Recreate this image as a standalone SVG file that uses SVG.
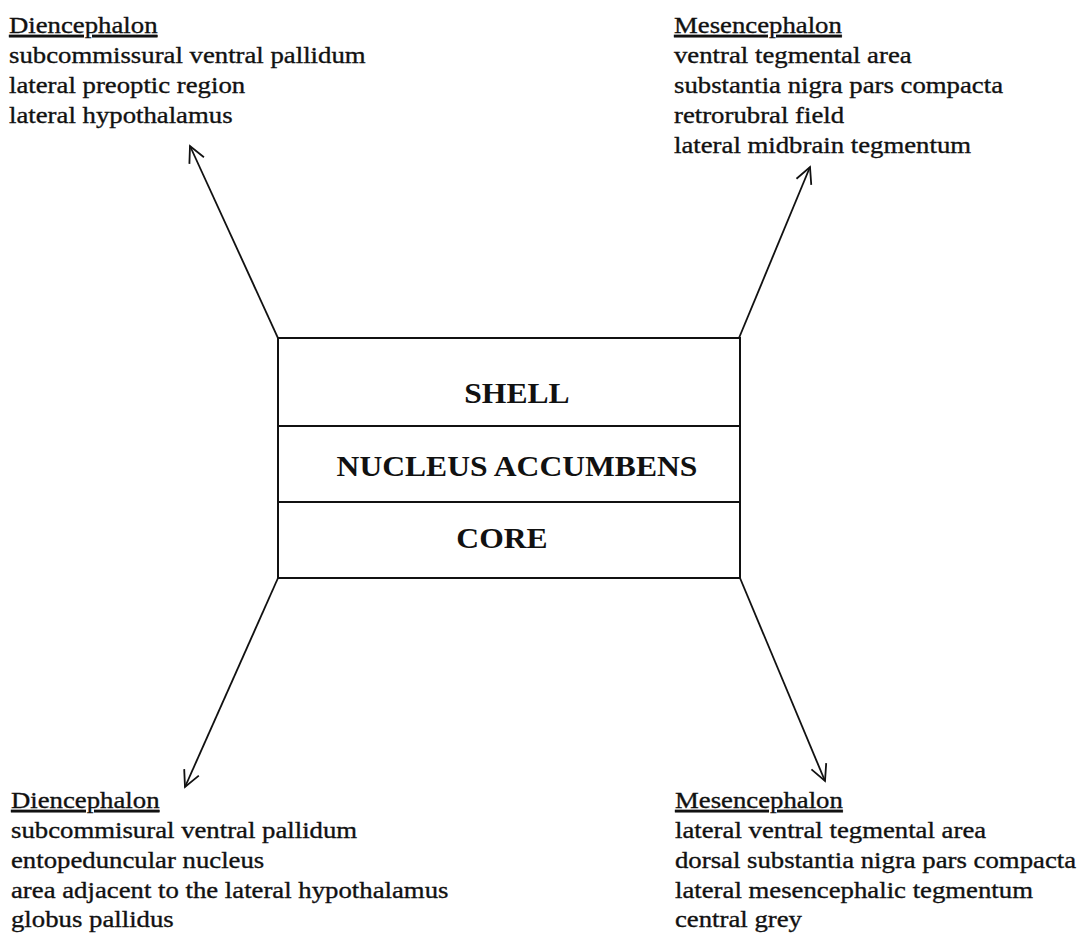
<svg xmlns="http://www.w3.org/2000/svg" width="1079" height="933" viewBox="0 0 1079 933">
  <style>
    .lbl { font-family: "Liberation Serif", "Times New Roman", serif; font-size: 24px; fill: #111; stroke: #111; stroke-width: 0.35; }
    .head { text-decoration: underline; }
    .box { fill: none; stroke: #111; stroke-width: 2; }
    .title { font-family: "Liberation Serif", "Times New Roman", serif; font-size: 29px; font-weight: bold; fill: #111; text-anchor: middle; }
    .conn { stroke: #111; stroke-width: 1.8; fill: none; marker-end: url(#vhead); }
  </style>
  <defs>
    <marker id="vhead" viewBox="0 0 20 20" refX="18" refY="10" markerWidth="20" markerHeight="20" markerUnits="userSpaceOnUse" orient="auto">
      <path d="M2,2 L18,10 L2,18" fill="none" stroke="#111" stroke-width="1.8"/>
    </marker>
  </defs>
  <rect width="1079" height="933" fill="#ffffff"/>

  <!-- Central box: nucleus accumbens divided into shell and core -->
  <g id="accumbens">
    <rect class="box" x="278" y="338" width="462" height="240"/>
    <line class="box" x1="278" y1="426" x2="740" y2="426"/>
    <line class="box" x1="278" y1="502" x2="740" y2="502"/>
    <text class="title" transform="translate(517,0) scale(1.09,1)" x="0" y="403">SHELL</text>
    <text class="title" transform="translate(517,0) scale(1.09,1)" x="0" y="476">NUCLEUS ACCUMBENS</text>
    <text class="title" transform="translate(502,0) scale(1.09,1)" x="0" y="548">CORE</text>
  </g>

  <!-- Shell projections, diencephalon -->
  <g id="shell-diencephalon" transform="translate(9,0) scale(1.115,1)">
    <text class="lbl" x="0" y="33"><tspan class="head">Diencephalon</tspan></text>
    <text class="lbl" x="0" y="63">subcommissural ventral pallidum</text>
    <text class="lbl" x="0" y="93">lateral preoptic region</text>
    <text class="lbl" x="0" y="123">lateral hypothalamus</text>
  </g>

  <!-- Shell projections, mesencephalon -->
  <g id="shell-mesencephalon" transform="translate(674,0) scale(1.115,1)">
    <text class="lbl" x="0" y="33"><tspan class="head">Mesencephalon</tspan></text>
    <text class="lbl" x="0" y="63">ventral tegmental area</text>
    <text class="lbl" x="0" y="93">substantia nigra pars compacta</text>
    <text class="lbl" x="0" y="123">retrorubral field</text>
    <text class="lbl" x="0" y="153">lateral midbrain tegmentum</text>
  </g>

  <!-- Core projections, diencephalon -->
  <g id="core-diencephalon" transform="translate(11,0) scale(1.115,1)">
    <text class="lbl" x="0" y="808"><tspan class="head">Diencephalon</tspan></text>
    <text class="lbl" x="0" y="838">subcommisural ventral pallidum</text>
    <text class="lbl" x="0" y="868">entopeduncular nucleus</text>
    <text class="lbl" x="0" y="898">area adjacent to the lateral hypothalamus</text>
    <text class="lbl" x="0" y="927">globus pallidus</text>
  </g>

  <!-- Core projections, mesencephalon -->
  <g id="core-mesencephalon" transform="translate(675,0) scale(1.115,1)">
    <text class="lbl" x="0" y="808"><tspan class="head">Mesencephalon</tspan></text>
    <text class="lbl" x="0" y="838">lateral ventral tegmental area</text>
    <text class="lbl" x="0" y="868">dorsal substantia nigra pars compacta</text>
    <text class="lbl" x="0" y="898">lateral mesencephalic tegmentum</text>
    <text class="lbl" x="0" y="927">central grey</text>
  </g>

  <!-- Projection arrows from the box corners -->
  <g id="connectors">
    <line class="conn" x1="278" y1="338" x2="190" y2="146"/>
    <line class="conn" x1="739" y1="338" x2="810" y2="167"/>
    <line class="conn" x1="278" y1="578" x2="185" y2="787"/>
    <line class="conn" x1="740" y1="578" x2="825" y2="781"/>
  </g>
</svg>
